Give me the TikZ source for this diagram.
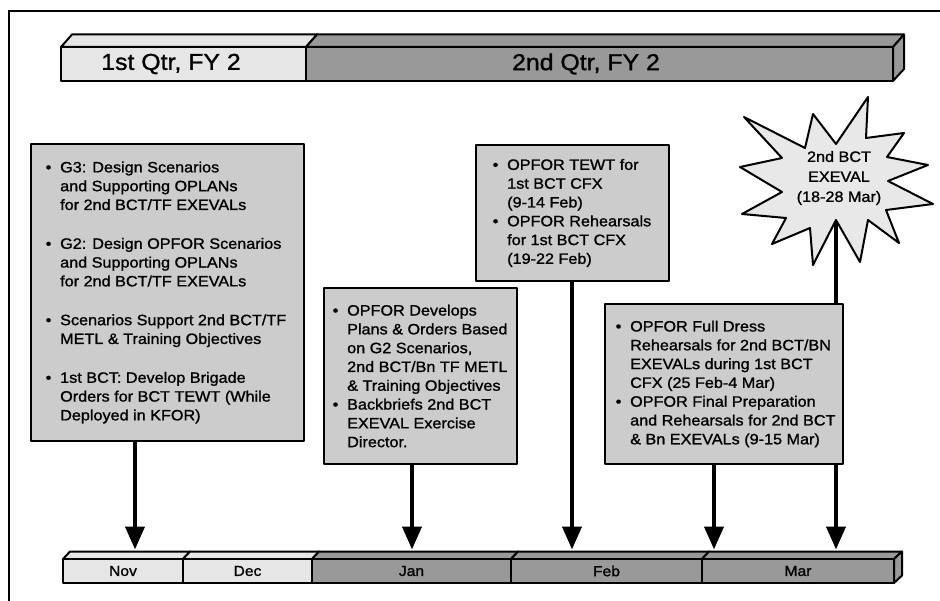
\documentclass[tikz,border=0pt]{standalone}
\usepackage{fontspec}
\setmainfont{Liberation Sans}[FakeStretch=1.08,FakeBold=1.2]
\usetikzlibrary{arrows.meta}
\definecolor{boxgray}{HTML}{CCCCCC}
\definecolor{lightbar}{HTML}{E6E6E6}
\definecolor{darkbar}{HTML}{999999}
\definecolor{stargray}{HTML}{E8E8E8}
\newcommand\mybul{\makebox[14.5pt][l]{\textbullet}}
\newcommand\myind{\hspace*{14.5pt}}
\begin{document}
\begin{tikzpicture}[x=1pt,y=-1pt,
  outl/.style={draw=black,line width=2pt,line join=round},
  infobox/.style={outl,fill=boxgray,anchor=north west,inner sep=0pt},
  boxtext/.style={anchor=west,inner sep=0pt,align=left,font=\fontsize{15}{18.8}\selectfont},
  qface/.style={outl,inner sep=0pt,minimum height=34pt},
  qlabel/.style={inner sep=0pt,font=\fontsize{23}{26}\selectfont},
  mface/.style={outl,inner sep=0pt,minimum height=24pt,font=\fontsize{14.5}{16}\selectfont},
  arr/.style={line width=4pt,-{Triangle[length=23pt,width=19pt]}}
]
\useasboundingbox (0,0) rectangle (940,601);
% frame
\draw[line width=1.8pt] (9,601) -- (9,11) -- (940,11);

% top bar
\draw[outl,fill=lightbar] (61,47) -- (72,34.5) -- (317,34.5) -- (306,47) -- cycle;
\draw[outl,fill=darkbar] (306,47) -- (317,34.5) -- (904,34.5) -- (893,47) -- cycle;
\draw[outl,fill=darkbar] (893,47) -- (904,34.5) -- (904,69) -- (893,81) -- cycle;
\node[qface,fill=lightbar,minimum width=245pt] (q1f) at (183.5,64) {};
\node[qface,fill=darkbar,minimum width=587pt] (q2f) at (599.5,64) {};
\node[qlabel] (q1t) at (171,64) {1st Qtr, FY 2};
\node[qlabel] (q2t) at (586,64) {2nd Qtr, FY 2};

% bottom bar
\draw[outl,fill=lightbar] (63,559) -- (70,551.5) -- (190,551.5) -- (183,559) -- cycle;
\draw[outl,fill=lightbar] (183,559) -- (190,551.5) -- (319,551.5) -- (312,559) -- cycle;
\draw[outl,fill=darkbar] (312,559) -- (319,551.5) -- (518,551.5) -- (511,559) -- cycle;
\draw[outl,fill=darkbar] (511,559) -- (518,551.5) -- (709,551.5) -- (702,559) -- cycle;
\draw[outl,fill=darkbar] (702,559) -- (709,551.5) -- (902,551.5) -- (894,559) -- cycle;
\draw[outl,fill=darkbar] (894,559) -- (902,551.5) -- (902,575.5) -- (894,583) -- cycle;
\node[mface,fill=lightbar,minimum width=120pt] (nov) at (123,571) {Nov};
\node[mface,fill=lightbar,minimum width=129pt] (dec) at (247.5,571) {Dec};
\node[mface,fill=darkbar,minimum width=199pt] (jan) at (411.5,571) {Jan};
\node[mface,fill=darkbar,minimum width=191pt] (feb) at (606.5,571) {Feb};
\node[mface,fill=darkbar,minimum width=192pt] (mar) at (798,571) {Mar};
\coordinate (bartop) at (0,549.5);

% star and its arrow
\coordinate (starbot) at (836,220);
\draw[arr] (starbot) -- (starbot |- bartop);
\draw[outl,fill=stargray] (744,117) -- (805,148) -- (813,114) -- (836,144) -- (868,97)
  -- (866,138) -- (904,133) -- (887,157) -- (928,165) -- (888,181) -- (933,204)
  -- (886,210) -- (899,243) -- (868,220) -- (860,262) -- (836,220) -- (813,265)
  -- (810,228) -- (772,244) -- (786,218) -- (742,214) -- (782,192) -- (740,167)
  -- (782,158) -- cycle;
\node[align=center,inner sep=0pt,font=\fontsize{15}{20}\selectfont] (star) at (839,178)
  {2nd BCT\\EXEVAL\\(18-28 Mar)};

% box 1
\node[infobox,minimum width=273pt,minimum height=297pt] (b1) at (30,143) {};
\node[boxtext] (t1) at ([xshift=15.5pt]b1.west) {%
\mybul G3: Design Scenarios\\
\myind and Supporting OPLANs\\
\myind for 2nd BCT/TF EXEVALs\\[20pt]
\mybul G2: Design OPFOR Scenarios\\
\myind and Supporting OPLANs\\
\myind for 2nd BCT/TF EXEVALs\\[20pt]
\mybul Scenarios Support 2nd BCT/TF\\
\myind METL \& Training Objectives\\[20pt]
\mybul 1st BCT: Develop Brigade\\
\myind Orders for BCT TEWT (While\\
\myind Deployed in KFOR)};
\coordinate (a1) at ([xshift=105pt]b1.south west);
\draw[arr] (a1) -- (a1 |- bartop);

% box 2
\node[infobox,minimum width=193pt,minimum height=176pt] (b2) at (323,287) {};
\node[boxtext] (t2) at ([xshift=9.5pt]b2.west) {%
\mybul OPFOR Develops\\
\myind Plans \& Orders Based\\
\myind on G2 Scenarios,\\
\myind 2nd BCT/Bn TF METL\\
\myind \& Training Objectives\\
\mybul Backbriefs 2nd BCT\\
\myind EXEVAL Exercise\\
\myind Director.};
\coordinate (a2) at ([xshift=89pt]b2.south west);
\draw[arr] (a2) -- (a2 |- bartop);

% box 3
\node[infobox,minimum width=193pt,minimum height=136pt] (b3) at (475,144) {};
\node[boxtext] (t3) at ([xshift=17.5pt]b3.west) {%
\mybul OPFOR TEWT for\\
\myind 1st BCT CFX\\
\myind (9-14 Feb)\\
\mybul OPFOR Rehearsals\\
\myind for 1st BCT CFX\\
\myind (19-22 Feb)};
\coordinate (a3) at ([xshift=97pt]b3.south west);
\draw[arr] (a3) -- (a3 |- bartop);

% box 4
\node[infobox,minimum width=238pt,minimum height=160pt] (b4) at (604,303) {};
\node[boxtext] (t4) at ([xshift=11.5pt]b4.west) {%
\mybul OPFOR Full Dress\\
\myind Rehearsals for 2nd BCT/BN\\
\myind EXEVALs during 1st BCT\\
\myind CFX (25 Feb-4 Mar)\\
\mybul OPFOR Final Preparation\\
\myind and Rehearsals for 2nd BCT\\
\myind \& Bn EXEVALs (9-15 Mar)};
\coordinate (a4) at ([xshift=110pt]b4.south west);
\draw[arr] (a4) -- (a4 |- bartop);
\end{tikzpicture}
\end{document}
